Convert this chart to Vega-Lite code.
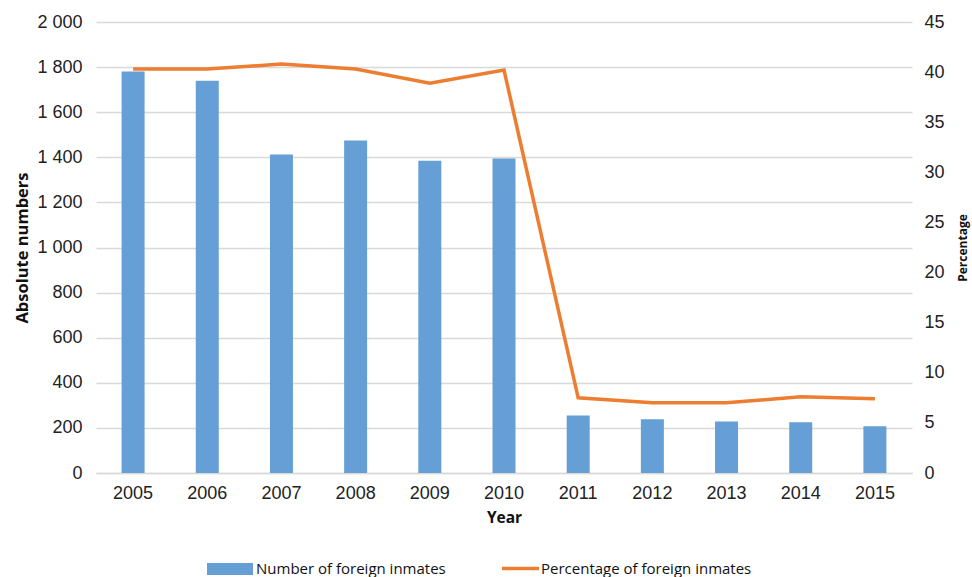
{
  "$schema": "https://vega.github.io/schema/vega-lite/v6.json",
  "width": 816,
  "height": 451,
  "autosize": "none",
  "padding": {"left": 96, "top": 22, "right": 60, "bottom": 104},
  "background": "white",
  "data": {"values": [
    {"year": "2005", "count": 1780, "pct": 40.3},
    {"year": "2006", "count": 1740, "pct": 40.3},
    {"year": "2007", "count": 1412, "pct": 40.8},
    {"year": "2008", "count": 1475, "pct": 40.3},
    {"year": "2009", "count": 1385, "pct": 38.9},
    {"year": "2010", "count": 1395, "pct": 40.2},
    {"year": "2011", "count": 255, "pct": 7.5},
    {"year": "2012", "count": 238, "pct": 7.0},
    {"year": "2013", "count": 228, "pct": 7.0},
    {"year": "2014", "count": 225, "pct": 7.6},
    {"year": "2015", "count": 207, "pct": 7.4}
  ]},
  "encoding": {
    "x": {
      "field": "year", "type": "nominal",
      "scale": {"paddingInner": 0.69, "paddingOuter": 0.345},
      "axis": {
        "title": "Year", "labelAngle": 0, "ticks": false, "domain": true,
        "domainColor": "#D9D9D9", "domainWidth": 1.5,
        "labelPadding": 11, "labelFont": "Liberation Sans", "labelFontSize": 18, "labelColor": "#222",
        "titleFont": "Open Sans", "titleFontWeight": "bold", "titleFontSize": 15.5, "titleColor": "#111", "titlePadding": 8
      }
    }
  },
  "layer": [
    {
      "mark": {"type": "bar"},
      "encoding": {
        "y": {
          "field": "count", "type": "quantitative",
          "scale": {"domain": [0, 2000], "nice": false},
          "axis": {
            "title": "Absolute numbers", "values": [0, 200, 400, 600, 800, 1000, 1200, 1400, 1600, 1800, 2000],
            "labelExpr": "replace(format(datum.value, ','), ',', ' ')",
            "orient": "left", "domain": false, "ticks": false, "grid": true, "gridColor": "#D9D9D9", "gridWidth": 1.5,
            "labelPadding": 14, "labelFont": "Liberation Sans", "labelFontSize": 18, "labelColor": "#222",
            "titleFont": "Open Sans", "titleFontWeight": "bold", "titleFontSize": 16.5, "titleColor": "#111", "titlePadding": 6
          }
        },
        "fill": {
          "datum": "Number of foreign inmates",
          "scale": {"range": ["#659FD5"]},
          "legend": {
            "title": null, "orient": "none", "legendX": 111, "legendY": 524,
            "symbolType": "M-1,-0.26H1V0.26H-1Z", "symbolSize": 2116, "symbolStrokeWidth": 0,
            "labelFont": "Open Sans", "labelFontSize": 15, "labelColor": "#111", "labelOffset": 3, "labelLimit": 400, "padding": 0
          }
        }
      }
    },
    {
      "mark": {"type": "line", "strokeWidth": 3.5},
      "encoding": {
        "y": {
          "field": "pct", "type": "quantitative",
          "scale": {"domain": [0, 45], "nice": false},
          "axis": {
            "title": "Percentage", "values": [0, 5, 10, 15, 20, 25, 30, 35, 40, 45],
            "orient": "right", "domain": false, "ticks": false, "grid": false,
            "labelPadding": 12, "labelFont": "Liberation Sans", "labelFontSize": 18, "labelColor": "#222",
            "titleFont": "Open Sans", "titleFontWeight": "bold", "titleFontSize": 12, "titleColor": "#111",
            "titleAngle": 270, "titlePadding": 25
          }
        },
        "stroke": {
          "datum": "Percentage of foreign inmates",
          "scale": {"range": ["#ED7D31"]},
          "legend": {
            "title": null, "orient": "none", "legendX": 404, "legendY": 526,
            "symbolType": "stroke", "symbolSize": 1369, "symbolStrokeWidth": 3.5,
            "labelFont": "Open Sans", "labelFontSize": 15, "labelColor": "#111", "labelOffset": 0, "labelLimit": 400, "padding": 0
          }
        }
      }
    }
  ],
  "resolve": {"scale": {"y": "independent"}},
  "config": {"view": {"stroke": null}}
}
